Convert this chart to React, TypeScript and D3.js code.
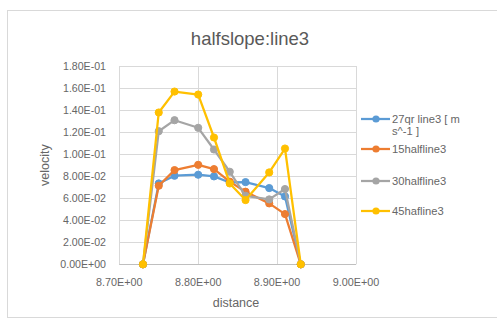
import React from "react";
import * as d3 from "d3";

const distance = [8.73, 8.75, 8.77, 8.80, 8.82, 8.84, 8.86, 8.89, 8.91, 8.93];
const seriesNames = ["27qr line3 [ m s^-1 ]", "15halfline3", "30halfline3", "45hafline3"];
const s27 = [0, 0.0734, 0.0804, 0.0813, 0.0798, 0.0743, 0.0746, 0.0692, 0.0616, 0];
const s15 = [0, 0.0713, 0.0855, 0.0903, 0.0864, 0.075, 0.0659, 0.0553, 0.0456, 0];
const s30 = [0, 0.1208, 0.1308, 0.1239, 0.1042, 0.084, 0.0622, 0.0589, 0.0683, 0];
const s45 = [0, 0.1378, 0.1568, 0.1541, 0.1151, 0.0734, 0.0583, 0.0834, 0.1051, 0];
const colors = ["#5B9BD5", "#ED7D31", "#A5A5A5", "#FFC000"];
const xTicks = [8.7, 8.8, 8.9, 9.0];
const yTicks = [0, 0.02, 0.04, 0.06, 0.08, 0.1, 0.12, 0.14, 0.16, 0.18];

const fmtE = (v: number) => {
  if (v === 0) return "0.00E+00";
  const e = Math.floor(Math.log10(Math.abs(v)) + 1e-9);
  const m = v / Math.pow(10, e);
  const sign = e < 0 ? "-" : "+";
  return `${m.toFixed(2)}E${sign}${String(Math.abs(e)).padStart(2, "0")}`;
};

export default function App() {
  const W = 497, H = 320;
  const x = d3.scaleLinear().domain([8.7, 9.0]).range([119.3, 356]);
  const y = d3.scaleLinear().domain([0, 0.18]).range([264.3, 66]);
  const all = [s27, s15, s30, s45];
  const line = d3.line<number>().x((_, i) => x(distance[i])).y((d) => y(d));
  const font = "'Liberation Sans', Arial, sans-serif";
  const tc = "#666666";
  const legendY = [119, 149, 181, 211];
  return (
    <svg width={W} height={H} style={{ position: "absolute", left: 0, top: 0 }} fontFamily={font}>
      <rect x={0} y={0} width={W} height={H} fill="#fff" />
      <rect x={7.5} y={10.5} width={495} height={307} fill="#fff" stroke="#d9d9d9" />
      <text x={250} y={44.5} textAnchor="middle" fontSize={18.5} fill="#595959">halfslope:line3</text>
      {yTicks.map((t) => (
        <g key={t}>
          <line x1={x(8.7)} x2={x(9.0)} y1={Math.round(y(t)) + 0.5} y2={Math.round(y(t)) + 0.5} stroke="#d9d9d9" />
          <text x={106} y={y(t) + 3.8} textAnchor="end" fontSize={10.6} fill={tc}>{fmtE(t)}</text>
        </g>
      ))}
      {xTicks.map((t) => (
        <g key={t}>
          <line x1={Math.round(x(t)) + 0.5} x2={Math.round(x(t)) + 0.5} y1={y(0.18)} y2={y(0)} stroke="#d9d9d9" />
          <text x={x(t)} y={286} textAnchor="middle" fontSize={10.8} fill={tc}>{fmtE(t)}</text>
        </g>
      ))}
      <line x1={x(8.7)} x2={x(9.0)} y1={Math.round(y(0)) + 0.5} y2={Math.round(y(0)) + 0.5} stroke="#bfbfbf" />
      <text x={236} y={306.5} textAnchor="middle" fontSize={12.5} fill={tc}>distance</text>
      <text transform={`translate(49,${y(0.09)}) rotate(-90)`} textAnchor="middle" fontSize={12.5} fill={tc}>velocity</text>
      {all.map((s, k) => (
        <g key={k}>
          <path d={line(s) || ""} fill="none" stroke={colors[k]} strokeWidth={2.25} strokeLinejoin="round" />
          {s.map((v, i) => (
            <circle key={i} cx={x(distance[i])} cy={y(v)} r={3.6} fill={colors[k]} stroke={colors[k]} />
          ))}
        </g>
      ))}
      {seriesNames.map((n, k) => (
        <g key={n}>
          <line x1={361} x2={390} y1={legendY[k]} y2={legendY[k]} stroke={colors[k]} strokeWidth={2.25} />
          <circle cx={376} cy={legendY[k]} r={3.6} fill={colors[k]} />
          {k === 0 ? (
            <text x={392} y={legendY[k] + 4} fontSize={11.2} fill={tc}>
              <tspan x={392}>27qr line3 [ m</tspan>
              <tspan x={392} dy={11.5}>s^-1 ]</tspan>
            </text>
          ) : (
            <text x={392} y={legendY[k] + 4} fontSize={11.2} fill={tc}>{n}</text>
          )}
        </g>
      ))}
    </svg>
  );
}
